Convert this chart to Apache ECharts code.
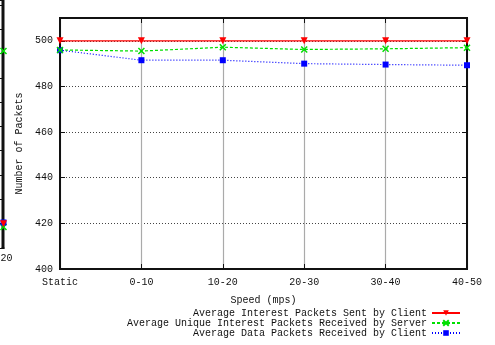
<!DOCTYPE html>
<html>
<head>
<meta charset="utf-8">
<script src="https://cdn.jsdelivr.net/npm/echarts@6/dist/echarts.min.js"></script>
<style>html,body{margin:0;padding:0;background:#fff}#c{width:495px;height:345px}</style>
</head>
<body>
<div id="c"></div>
<script>
const categories = ['Static', '0-10', '10-20', '20-30', '30-40', '40-50'];
const sentByClient = [500, 500, 500, 500, 500, 500];
const uniqueByServer = [496.0, 495.5, 497.2, 496.2, 496.5, 497.0];
const dataByClient = [495.9, 491.5, 491.5, 490.0, 489.6, 489.3];
const yTicks = [400, 420, 440, 460, 480, 500];
const seriesNames = [
  'Average Interest Packets Sent by Client',
  'Average Unique Interest Packets Received by Server',
  'Average Data Packets Received by Client'
];
// fragment of the neighbouring chart visible at the left edge
const fragX = 20;
const fragGreenTop = 81;
const fragGreenLow = 8.6;
const fragRed = 10;
const fragBlue = 10.5;

const FONT = '"Liberation Mono", "DejaVu Sans Mono", monospace';
const TXT = '#111';
const crossPath = 'path://M0,0L10,10M10,0L0,10';

const chart = echarts.init(document.getElementById('c'), null, {renderer: 'canvas'});
chart.setOption({
  animation: false,
  backgroundColor: '#fff',
  textStyle: {fontFamily: FONT, fontSize: 10, color: TXT},
  grid: [
    {left: 60, right: 28, top: 18, bottom: 76, show: true, borderColor: '#111', borderWidth: 2, backgroundColor: 'transparent'},
    {left: 0, width: 3.5, top: 0, height: 248, show: true, borderColor: '#111', borderWidth: 2, backgroundColor: 'transparent'}
  ],
  legend: {
    data: seriesNames,
    orient: 'vertical',
    align: 'right',
    right: 34,
    top: 308,
    padding: 0,
    itemWidth: 28,
    itemHeight: 7,
    itemGap: 0,
    textStyle: {fontFamily: FONT, fontSize: 10, color: TXT, lineHeight: 10, height: 10}
  },
  xAxis: [
    {
      type: 'category', data: categories, boundaryGap: false, gridIndex: 0,
      name: 'Speed (mps)', nameLocation: 'middle', nameGap: 26,
      nameTextStyle: {fontFamily: FONT, fontSize: 10, color: TXT},
      axisLine: {show: true, lineStyle: {color: '#111', width: 2}},
      axisTick: {show: true, inside: true, length: 5, alignWithLabel: true, lineStyle: {color: '#111', width: 1}},
      axisLabel: {fontFamily: FONT, fontSize: 10, color: TXT, margin: 8, interval: 0},
      splitLine: {show: true, lineStyle: {color: '#aaa', width: 1.2, type: 'solid'}}
    },
    {
      type: 'category', data: categories, boundaryGap: false, gridIndex: 0, position: 'top',
      axisLine: {show: true, lineStyle: {color: '#111', width: 2}},
      axisTick: {show: true, inside: true, length: 5, alignWithLabel: true, lineStyle: {color: '#111', width: 1}},
      axisLabel: {show: false}, splitLine: {show: false}
    },
    {
      type: 'value', gridIndex: 1, min: 0, max: fragX, interval: fragX,
      axisLine: {show: true, lineStyle: {color: '#111', width: 2}},
      axisTick: {show: false},
      axisLabel: {fontFamily: FONT, fontSize: 10, color: TXT, margin: 5, showMinLabel: false, align: 'left', padding: [0, 0, 0, -3]},
      splitLine: {show: false}
    }
  ],
  yAxis: [
    {
      type: 'value', gridIndex: 0, min: 400, max: 510, interval: 20,
      name: 'Number of Packets', nameLocation: 'middle', nameGap: 36, nameRotate: 90,
      nameTextStyle: {fontFamily: FONT, fontSize: 10, color: TXT},
      axisLine: {show: true, lineStyle: {color: '#111', width: 2}},
      axisTick: {show: true, inside: true, length: 5, lineStyle: {color: '#111', width: 1}},
      axisLabel: {fontFamily: FONT, fontSize: 10, color: TXT, margin: 7, showMaxLabel: false,
        formatter: v => yTicks.includes(v) ? String(v) : ''},
      splitLine: {show: true, lineStyle: {color: '#444', width: 1, type: [1, 2]}}
    },
    {
      type: 'value', gridIndex: 0, min: 400, max: 510, interval: 20, position: 'right',
      axisLine: {show: true, lineStyle: {color: '#111', width: 2}},
      axisTick: {show: true, inside: true, length: 5, lineStyle: {color: '#111', width: 1}},
      axisLabel: {show: false}, splitLine: {show: false}
    },
    {
      type: 'value', gridIndex: 1, min: 0, max: 102, interval: 10, position: 'right',
      axisLine: {show: true, lineStyle: {color: '#111', width: 2}},
      axisTick: {show: true, inside: true, length: 4, lineStyle: {color: '#111', width: 1}},
      axisLabel: {show: false}, splitLine: {show: false}
    }
  ],
  series: [
    {
      name: seriesNames[0], type: 'line', xAxisIndex: 0, yAxisIndex: 0, data: sentByClient,
      symbol: 'triangle', symbolRotate: 180, symbolSize: 7,
      lineStyle: {color: '#ff0000', width: 1.2, type: 'solid'},
      itemStyle: {color: '#ff0000'}, z: 5
    },
    {
      name: seriesNames[1], type: 'line', xAxisIndex: 0, yAxisIndex: 0, data: uniqueByServer,
      symbol: crossPath, symbolSize: 6,
      lineStyle: {color: '#00e000', width: 1.2, type: [3, 2]},
      itemStyle: {color: '#00e000', borderColor: '#00e000', borderWidth: 1.5}, z: 4
    },
    {
      name: seriesNames[2], type: 'line', xAxisIndex: 0, yAxisIndex: 0, data: dataByClient,
      symbol: 'rect', symbolSize: 6,
      lineStyle: {color: '#0000ff', width: 1.2, type: [1, 2]},
      itemStyle: {color: '#0000ff'}, z: 3
    },
    {
      name: 'fragGreenTop', type: 'line', xAxisIndex: 2, yAxisIndex: 2, data: [[fragX, fragGreenTop]],
      symbol: crossPath, symbolSize: 6, lineStyle: {color: '#00e000'},
      itemStyle: {color: '#00e000', borderColor: '#00e000', borderWidth: 1.5}
    },
    {
      name: 'fragGreenLow', type: 'line', xAxisIndex: 2, yAxisIndex: 2, data: [[fragX, fragGreenLow]],
      symbol: crossPath, symbolSize: 6, lineStyle: {color: '#00e000'},
      itemStyle: {color: '#00e000', borderColor: '#00e000', borderWidth: 1.5}
    },
    {
      name: 'fragBlue', type: 'line', xAxisIndex: 2, yAxisIndex: 2, data: [[fragX, fragBlue]],
      symbol: 'rect', symbolSize: 6, lineStyle: {color: '#0000ff'}, itemStyle: {color: '#0000ff'}
    },
    {
      name: 'fragRed', type: 'line', xAxisIndex: 2, yAxisIndex: 2, data: [[fragX, fragRed]],
      symbol: 'triangle', symbolRotate: 180, symbolSize: 7, lineStyle: {color: '#ff0000'}, itemStyle: {color: '#ff0000'}
    }
  ]
});
</script>
</body>
</html>
